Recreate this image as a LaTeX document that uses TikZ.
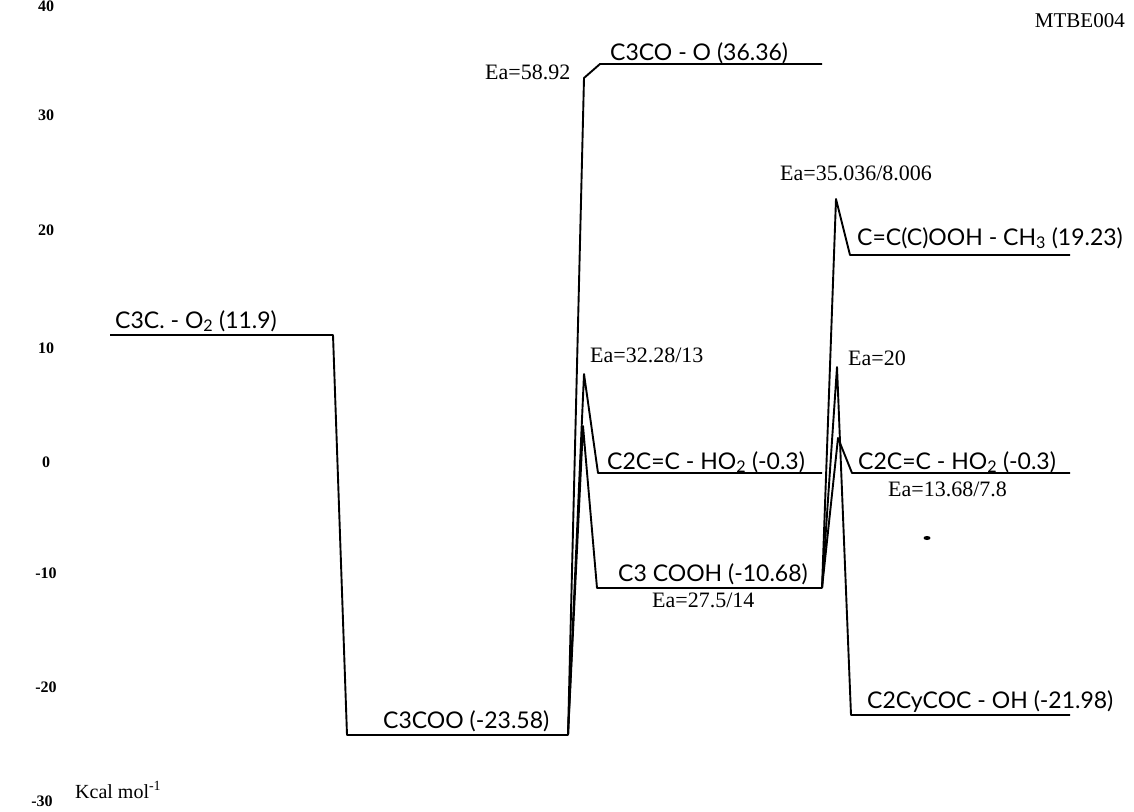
\documentclass[tikz,border=0pt]{standalone}
\usepackage{fontspec}
\newfontfamily\chemfont{Lato}
\newfontfamily\serfont{Liberation Serif}
\begin{document}
\begin{tikzpicture}[x=1pt,y=-1pt,
  lvl/.style={line width=1.9pt, line join=round},
  chem/.style={font=\chemfont\fontsize{23}{23}\selectfont, inner sep=0pt, anchor=base west},
  ea/.style={font=\serfont\fontsize{22}{22}\selectfont, inner sep=0pt, anchor=base west},
  axl/.style={font=\serfont\bfseries\fontsize{16}{16}\selectfont, inner sep=0pt, anchor=center}]
\useasboundingbox[fill=white] (0,0) rectangle (1134,811);
% level and transition-state points
\coordinate (a1) at (110,335);  \coordinate (a2) at (333,335);
\coordinate (b1) at (347,735);  \coordinate (b2) at (568,735);
\coordinate (ts1) at (584,78);  \coordinate (ts1c) at (600,64); \coordinate (c2) at (822,64);
\coordinate (ts2) at (584,374); \coordinate (d1) at (598,473);  \coordinate (d2) at (822,473);
\coordinate (ts3) at (583,426); \coordinate (e1) at (597,588);  \coordinate (e2) at (822,588);
\coordinate (ts4) at (836,199); \coordinate (f1) at (850,255);  \coordinate (f2) at (1070,255);
\coordinate (ts5) at (837,367); \coordinate (g1) at (851,715);  \coordinate (g2) at (1070,715);
\coordinate (ts6) at (838,438); \coordinate (h1) at (852,473);  \coordinate (h2) at (1070,473);
% paths
\draw[lvl] (a1) -- (a2) -- (b1) -- (b2);
\draw[lvl] (b2) -- (ts1) -- (ts1c) -- (c2);
\draw[lvl] (b2) -- (ts2) -- (d1) -- (d2);
\draw[lvl] (b2) -- (ts3) -- (e1) -- (e2);
\draw[lvl] (e2) -- (ts4) -- (f1) -- (f2);
\draw[lvl] (e2) -- (ts5) -- (g1) -- (g2);
\draw[lvl] (e2) -- (ts6) -- (h1) -- (h2);
% species labels
\node[chem] (la) at (115,328) {C3C. - O\textsubscript{2} (11.9)};
\node[chem] (lb) at (383,728) {C3COO (-23.58)};
\node[chem] (lc) at (610,60) {C3CO - O (36.36)};
\node[chem] (ld) at (607,469) {C2C=C - HO\textsubscript{2} (-0.3)};
\node[chem] (le) at (618,581) {C3 COOH (-10.68)};
\node[chem] (lf) at (857,245) {C=C(C)OOH - CH\textsubscript{3} (19.23)};
\node[chem] (lh) at (858,469) {C2C=C - HO\textsubscript{2} (-0.3)};
\node[chem] (lg) at (867,708) {C2CyCOC - OH (-21.98)};
% activation energies
\node[ea] (ea1) at (485,79) {Ea=58.92};
\node[ea] (ea2) at (590,362) {Ea=32.28/13};
\node[ea] (ea3) at (652,607) {Ea=27.5/14};
\node[ea] (ea4) at (780,180) {Ea=35.036/8.006};
\node[ea] (ea5) at (848,365) {Ea=20};
\node[ea] (ea6) at (888,496) {Ea=13.68/7.8};
% axis
\node[axl] (y40) at (46,6) {40};
\node[axl] (y30) at (46,115) {30};
\node[axl] (y20) at (46,230) {20};
\node[axl] (y10) at (46,348) {10};
\node[axl] (y0) at (46,462) {0};
\node[axl] (ym10) at (46,573) {-10};
\node[axl] (ym20) at (46,687) {-20};
\node[axl] (ym30) at (42,801) {-30};
\node[font=\serfont\fontsize{20}{20}\selectfont, inner sep=0pt, anchor=base west] (unit) at (75,798) {Kcal mol\textsuperscript{-1}};
\node[font=\serfont\fontsize{21}{21}\selectfont, inner sep=0pt, anchor=east] (title) at (1125,21) {MTBE004};
% small mark
\fill (927,538) ellipse (3.5 and 2);
\end{tikzpicture}
\end{document}
